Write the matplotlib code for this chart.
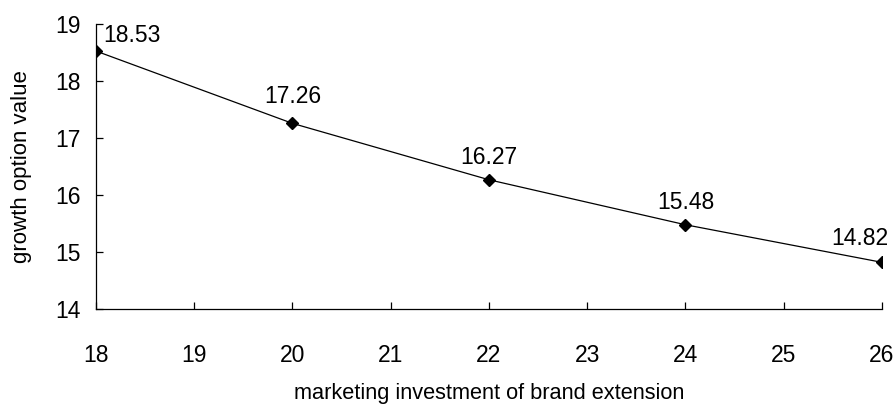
import matplotlib.pyplot as plt

plt.rcParams['font.family'] = ['Liberation Sans', 'DejaVu Sans']

# data
investment = [18, 20, 22, 24, 26]
option_value = [18.53, 17.26, 16.27, 15.48, 14.82]
value_labels = ['18.53', '17.26', '16.27', '15.48', '14.82']
x_ticks = [18, 19, 20, 21, 22, 23, 24, 25, 26]
y_ticks = [14, 15, 16, 17, 18, 19]

fig = plt.figure(figsize=(8.94, 4.05), dpi=100)
ax = fig.add_axes([0.1074, 0.237, 0.879, 0.703])

ax.plot(investment, option_value, color='black', linewidth=0.9,
        marker='D', markersize=6.5, markerfacecolor='black', markeredgecolor='black')

# point labels, first one sits to the right, last one to the left
offsets = [(5, 11, 'left'), (0, 19, 'center'), (0, 16, 'center'), (0, 16, 'center'), (-16, 17, 'center')]
for x, y, lab, (dx, dy, ha) in zip(investment, option_value, value_labels, offsets):
    ax.annotate(lab, (x, y), xytext=(dx, dy), textcoords='offset points',
                ha=ha, va='center', fontsize=16.5)

ax.set_xlim(18, 26)
ax.set_ylim(14, 19)
ax.set_xticks(x_ticks)
ax.set_yticks(y_ticks)
ax.spines['top'].set_visible(False)
ax.spines['right'].set_visible(False)
ax.spines['left'].set_linewidth(0.9)
ax.spines['bottom'].set_linewidth(0.9)
ax.tick_params(axis='both', direction='in', length=5, width=0.9, labelsize=16.5)
ax.tick_params(axis='x', pad=25)
ax.tick_params(axis='y', pad=11)

# keep the x label just inside the bottom edge
ax.set_xlabel('marketing investment of brand extension', fontsize=15.7, labelpad=12)
ax.set_ylabel('growth option value', fontsize=16, labelpad=17)

fig.savefig('out.png', dpi=100)
